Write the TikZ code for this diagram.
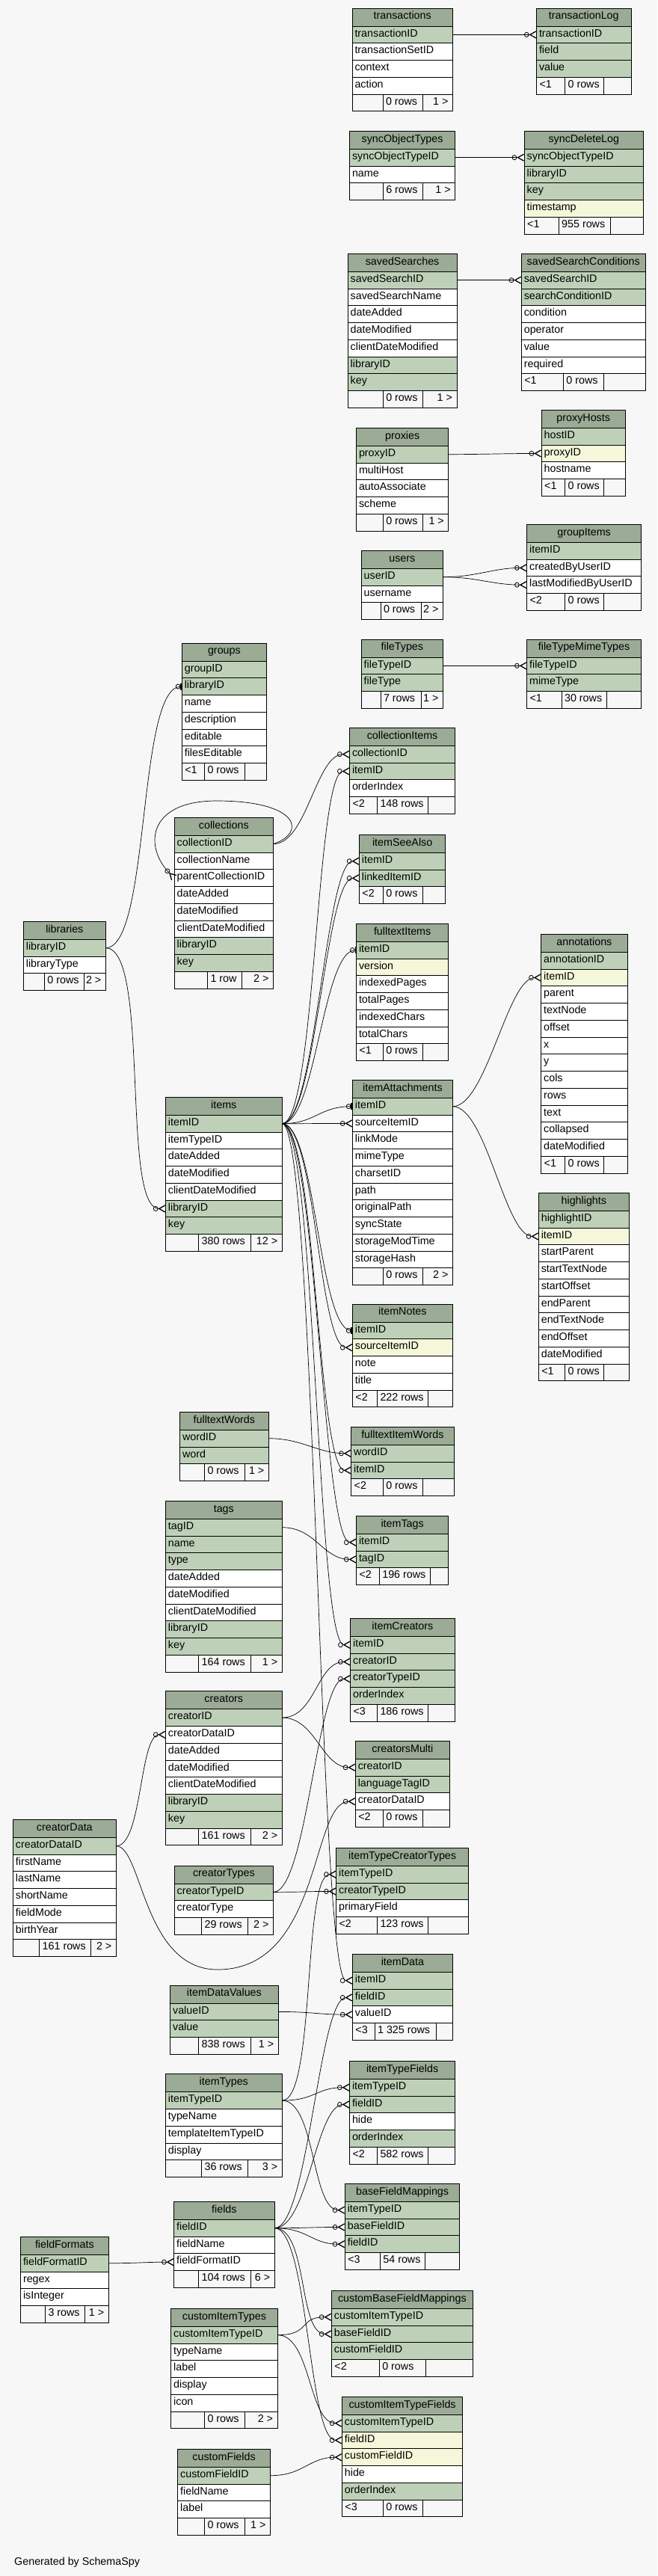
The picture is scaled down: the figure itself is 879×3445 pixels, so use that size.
\documentclass[tikz,border=0pt]{standalone}
\usepackage{fontspec}
\setmainfont{Liberation Sans}
\usetikzlibrary{arrows.meta}

\definecolor{erbg}{HTML}{F7F7F7}
\definecolor{erhd}{HTML}{9BAB96}
\definecolor{pk}{HTML}{BED1B8}
\definecolor{ix}{HTML}{F4F7DA}
\definecolor{pl}{HTML}{FFFFFF}

% one table: name, x, y, width, columns (name/colour), footer
\newcommand{\erTable}[6]{%
  \node[erhead] (#1) at (#2,#3) {\makebox[#4pt]{#1}};
  \xdef\erLast{#1}%
  \foreach \col/\kind in {#5}{%
    \node[errow,fill=\kind] (#1-\col) at (\erLast.south west) {\makebox[#4pt][l]{\hspace{3.5pt}\col}};
    \xdef\erLast{#1-\col}%
  }%
  \erFoot{#1}{#4}#6%
}
\newcommand{\erFoot}[7]{%
  \pgfmathsetmacro\erRest{#2-#6-#7}%
  \node[erfoot] (#1-f1) at (\erLast.south west) {\makebox[#6pt][l]{\hspace{4pt}#3}};
  \node[erfoot] (#1-f2) at (#1-f1.north east) {\makebox[#7pt][l]{\hspace{4pt}#4}};
  \node[erfoot] (#1-f3) at (#1-f2.north east) {\makebox[\erRest pt][r]{#5\hspace{6pt}}};
}
\tikzset{erdist/.store in=\erDist,erdist=45}

\begin{document}
\begin{tikzpicture}
    [x=1pt,y=-1pt,font=\fontsize{14.3}{17}\selectfont,
     erhead/.style={draw,fill=erhd,anchor=north west,inner sep=0pt,outer sep=0pt,
       minimum height=24pt,text height=9.5pt,text depth=4pt,line width=0.9pt},
     errow/.style={draw,anchor=north west,inner sep=0pt,outer sep=0pt,
       minimum height=22.75pt,text height=9.5pt,text depth=4pt,line width=0.9pt},
     erfoot/.style={errow,fill=erbg},
     link/.style={line width=0.7pt},
     fkcurve/.style={to path={.. controls +(\erDist,0) and +(-\erDist,0) .. (\tikztotarget)}},
     many/.style={fkcurve,
       -{Circle[open,length=6.5pt,width=7pt,line width=0.8pt]Straight Barb[reversed,length=8pt,width=9pt,line width=1.3pt]}},
     one/.style={fkcurve,
       -{Circle[open,length=6.5pt,width=7pt,line width=0.8pt]Bar[width=9pt,line width=2pt]}}]
    \fill[erbg] (0,0) rectangle (879,3445);
    \useasboundingbox (0,0) rectangle (879,3445);

    \erTable{transactions}{471}{11}{134.4}{transactionID/pk,transactionSetID/pl,context/pl,action/pl}{{}{0 rows}{1 >}{41}{53.6}}
    \erTable{transactionLog}{717.5}{11}{126.5}{transactionID/pk,field/pk,value/pk}{{<1}{0 rows}{}{38.1}{52.1}}
    \erTable{syncObjectTypes}{467.5}{175.3}{141.2}{syncObjectTypeID/pk,name/pl}{{}{6 rows}{1 >}{44.8}{53.3}}
    \erTable{syncDeleteLog}{701.2}{175.3}{159.2}{syncObjectTypeID/pk,libraryID/pk,key/pk,timestamp/ix}{{<1}{955 rows}{}{46}{69.5}}
    \erTable{savedSearches}{465.2}{339.3}{145.8}{savedSearchID/pk,savedSearchName/pl,dateAdded/pl,dateModified/pl,clientDateModified/pl,libraryID/pk,key/pk}{{}{0 rows}{1 >}{47.1}{53.3}}
    \erTable{savedSearchConditions}{697.3}{339.3}{165.9}{savedSearchID/pk,searchConditionID/pk,condition/pl,operator/pl,value/pl,required/pl}{{<1}{0 rows}{}{56.1}{54.3}}
    \erTable{proxyHosts}{724.2}{548.3}{112.1}{hostID/pk,proxyID/ix,hostname/pl}{{<1}{0 rows}{}{31.4}{52.1}}
    \erTable{proxies}{476.5}{572.3}{123.3}{proxyID/pk,multiHost/pl,autoAssociate/pl,scheme/pl}{{}{0 rows}{1 >}{35.8}{53.3}}
    \erTable{groupItems}{704.6}{701.3}{153}{itemID/pk,createdByUserID/pl,lastModifiedByUserID/pl}{{<2}{0 rows}{}{51}{52.1}}
    \erTable{users}{483.2}{736.3}{109.3}{userID/pk,username/pl}{{}{0 rows}{2 >}{25.8}{54.3}}
    \erTable{groups}{243.3}{860}{113.2}{groupID/pk,libraryID/pk,name/pl,description/pl,editable/pl,filesEditable/pl}{{<1}{0 rows}{}{30.2}{53.9}}
    \erTable{fileTypes}{483.2}{855}{109.3}{fileTypeID/pk,fileType/pk}{{}{7 rows}{1 >}{25.8}{54.3}}
    \erTable{fileTypeMimeTypes}{704.6}{855}{153}{fileTypeID/pk,mimeType/pk}{{<1}{30 rows}{}{46.5}{60.6}}
    \erTable{collectionItems}{467.5}{973.3}{141.2}{collectionID/pk,itemID/pk,orderIndex/pl}{{<2}{148 rows}{}{37}{68.4}}
    \erTable{collections}{233.2}{1093.3}{132.3}{collectionID/pk,collectionName/pl,parentCollectionID/pl,dateAdded/pl,dateModified/pl,clientDateModified/pl,libraryID/pk,key/pk}{{}{1 row}{2 >}{44.3}{45.9}}
    \erTable{itemSeeAlso}{480.4}{1116.3}{115.5}{itemID/pk,linkedItemID/pk}{{<2}{0 rows}{}{31.9}{53.3}}
    \erTable{libraries}{31.4}{1232.3}{109.9}{libraryID/pk,libraryType/pl}{{}{0 rows}{2 >}{28}{53.3}}
    \erTable{fulltextItems}{476.5}{1235.3}{123.3}{itemID/pk,version/ix,indexedPages/pl,totalPages/pl,indexedChars/pl,totalChars/pl}{{<1}{0 rows}{}{35.8}{53.3}}
    \erTable{annotations}{723.7}{1249.3}{115.4}{annotationID/pk,itemID/ix,parent/pl,textNode/pl,offset/pl,x/pl,y/pl,cols/pl,rows/pl,text/pl,collapsed/pl,dateModified/pl}{{<1}{0 rows}{}{31.9}{52.1}}
    \erTable{items}{221.4}{1467.3}{155.8}{itemID/pk,itemTypeID/pl,dateAdded/pl,dateModified/pl,clientDateModified/pl,libraryID/pk,key/pk}{{}{380 rows}{12 >}{44.3}{69.5}}
    \erTable{itemAttachments}{471.4}{1444.3}{134}{itemID/pk,sourceItemID/pl,linkMode/pl,mimeType/pl,charsetID/pl,path/pl,originalPath/pl,syncState/pl,storageModTime/pl,storageHash/pl}{{}{0 rows}{2 >}{40.9}{53.3}}
    \erTable{highlights}{720.3}{1595.3}{121.1}{highlightID/pk,itemID/ix,startParent/pl,startTextNode/pl,startOffset/pl,endParent/pl,endTextNode/pl,endOffset/pl,dateModified/pl}{{<1}{0 rows}{}{35.3}{52.1}}
    \erTable{itemNotes}{471.4}{1744}{134}{itemID/pk,sourceItemID/ix,note/pl,title/pl}{{<2}{222 rows}{}{33.1}{68.4}}
    \erTable{fulltextWords}{240.5}{1888.3}{118.8}{wordID/pk,word/pk}{{}{0 rows}{1 >}{33}{53.9}}
    \erTable{fulltextItemWords}{469.7}{1908.3}{137.3}{wordID/pk,itemID/pk}{{<2}{0 rows}{}{42.6}{53.3}}
    \erTable{tags}{221.4}{2007.3}{155.8}{tagID/pk,name/pk,type/pk,dateAdded/pl,dateModified/pl,clientDateModified/pl,libraryID/pk,key/pk}{{}{164 rows}{1 >}{44.3}{69.5}}
    \erTable{itemTags}{476.5}{2027.3}{123.3}{itemID/pk,tagID/pk}{{<2}{196 rows}{}{30.8}{68.4}}
    \erTable{itemCreators}{468.6}{2164.3}{139.6}{itemID/pk,creatorID/pk,creatorTypeID/pk,orderIndex/pk}{{<3}{186 rows}{}{35.9}{68.4}}
    \erTable{creators}{221.4}{2261.7}{155.8}{creatorID/pk,creatorDataID/pl,dateAdded/pl,dateModified/pl,clientDateModified/pl,libraryID/pk,key/pk}{{}{161 rows}{2 >}{44.3}{69.5}}
    \erTable{creatorsMulti}{475.3}{2328.3}{126.2}{creatorID/pk,languageTagID/pk,creatorDataID/pl}{{<2}{0 rows}{}{37}{53.3}}
    \erTable{creatorData}{17.4}{2433.3}{137.9}{creatorDataID/pk,firstName/pl,lastName/pl,shortName/pl,fieldMode/pl,birthYear/pl}{{}{161 rows}{2 >}{35.3}{68.9}}
    \erTable{creatorTypes}{233.2}{2495}{132.3}{creatorTypeID/pk,creatorType/pl}{{}{29 rows}{2 >}{36.4}{61.7}}
    \erTable{itemTypeCreatorTypes}{449.6}{2471.3}{177.1}{itemTypeID/pk,creatorTypeID/pk,primaryField/pl}{{<2}{123 rows}{}{54.9}{68.4}}
    \erTable{itemData}{471.4}{2613.3}{134}{itemID/pk,fieldID/pk,valueID/pl}{{<3}{1 325 rows}{}{29.7}{82.4}}
    \erTable{itemDataValues}{227.6}{2655}{144.6}{valueID/pk,value/pk}{{}{838 rows}{1 >}{38.1}{69.5}}
    \erTable{itemTypeFields}{467.5}{2756.3}{141.2}{itemTypeID/pk,fieldID/pk,hide/pl,orderIndex/pk}{{<2}{582 rows}{}{37}{68.4}}
    \erTable{itemTypes}{221.4}{2773.7}{155.8}{itemTypeID/pk,typeName/pl,templateItemTypeID/pl,display/pl}{{}{36 rows}{3 >}{48.2}{61.7}}
    \erTable{baseFieldMappings}{461.3}{2920.3}{153.6}{itemTypeID/pk,baseFieldID/pk,fieldID/pk}{{<3}{54 rows}{}{47.1}{60.5}}
    \erTable{fields}{232.6}{2944.3}{134.6}{fieldID/pk,fieldName/pl,fieldFormatID/pl}{{}{104 rows}{6 >}{33.1}{69.5}}
    \erTable{fieldFormats}{27.5}{2991.3}{117.7}{fieldFormatID/pk,regex/pl,isInteger/pl}{{}{3 rows}{1 >}{33}{52.7}}
    \erTable{customBaseFieldMappings}{443.4}{3063.3}{188.9}{customItemTypeID/pk,baseFieldID/pk,customFieldID/pk}{{<2}{0 rows}{}{63.9}{62.2}}
    \erTable{customItemTypes}{228.7}{3087.3}{142.4}{customItemTypeID/pk,typeName/pl,label/pl,display/pl,icon/pl}{{}{0 rows}{2 >}{44.8}{53.9}}
    \erTable{customItemTypeFields}{457.4}{3205.3}{161.4}{customItemTypeID/pk,fieldID/ix,customFieldID/ix,hide/pl,orderIndex/pk}{{<3}{0 rows}{}{54.9}{53.3}}
    \erTable{customFields}{237.7}{3275.3}{123.8}{customFieldID/pk,fieldName/pl,label/pl}{{}{0 rows}{1 >}{35.8}{53.9}}

    \node[anchor=base west] (credit) at (15.7,3430.5) {Generated by SchemaSpy};

    \path[link]
      (transactions-transactionID.east) edge[many] (transactionLog-transactionID.west)
      (syncObjectTypes-syncObjectTypeID.east) edge[many] (syncDeleteLog-syncObjectTypeID.west)
      (savedSearches-savedSearchID.east) edge[many] (savedSearchConditions-savedSearchID.west)
      (proxies-proxyID.east) edge[many] (proxyHosts-proxyID.west)
      (users-userID.east) edge[many] (groupItems-createdByUserID.west)
                          edge[many] (groupItems-lastModifiedByUserID.west)
      (fileTypes-fileTypeID.east) edge[many] (fileTypeMimeTypes-fileTypeID.west)
      (libraries-libraryID.east) edge[one,erdist=60] (groups-libraryID.west)
                                 edge[many,erdist=60] (items-libraryID.west)
      (collections-collectionID.east) edge[many] (collectionItems-collectionID.west)
      (items-itemID.east) edge[many] (collectionItems-itemID.west)
                          edge[many] (itemSeeAlso-itemID.west)
                          edge[many] (itemSeeAlso-linkedItemID.west)
                          edge[one] (fulltextItems-itemID.west)
                          edge[one] (itemAttachments-itemID.west)
                          edge[many] (itemAttachments-sourceItemID.west)
                          edge[one] (itemNotes-itemID.west)
                          edge[many] (itemNotes-sourceItemID.west)
                          edge[many] (fulltextItemWords-itemID.west)
                          edge[many] (itemTags-itemID.west)
                          edge[many] (itemCreators-itemID.west)
                          edge[many] (itemData-itemID.west)
      (itemAttachments-itemID.east) edge[many] (annotations-itemID.west)
                                    edge[many] (highlights-itemID.west)
      (fulltextWords-wordID.east) edge[many] (fulltextItemWords-wordID.west)
      (tags-tagID.east) edge[many] (itemTags-tagID.west)
      (creators-creatorID.east) edge[many] (itemCreators-creatorID.west)
                                edge[many] (creatorsMulti-creatorID.west)
      (creatorData-creatorDataID.east) edge[many,erdist=35] (creators-creatorDataID.west)
      (creatorTypes-creatorTypeID.east) edge[many] (itemCreators-creatorTypeID.west)
                                        edge[many] (itemTypeCreatorTypes-creatorTypeID.west)
      (itemTypes-itemTypeID.east) edge[many] (itemTypeCreatorTypes-itemTypeID.west)
                                  edge[many] (itemTypeFields-itemTypeID.west)
                                  edge[many] (baseFieldMappings-itemTypeID.west)
      (itemDataValues-valueID.east) edge[many] (itemData-valueID.west)
      (fields-fieldID.east) edge[many] (itemData-fieldID.west)
                            edge[many] (itemTypeFields-fieldID.west)
                            edge[many] (baseFieldMappings-baseFieldID.west)
                            edge[many] (baseFieldMappings-fieldID.west)
                            edge[many] (customBaseFieldMappings-baseFieldID.west)
                            edge[many] (customItemTypeFields-fieldID.west)
      (fieldFormats-fieldFormatID.east) edge[many] (fields-fieldFormatID.west)
      (customItemTypes-customItemTypeID.east) edge[many] (customBaseFieldMappings-customItemTypeID.west)
                                              edge[many] (customItemTypeFields-customItemTypeID.west)
      (customFields-customFieldID.east) edge[many] (customItemTypeFields-customFieldID.west);

    % loops round a table
    \coordinate (collLoop) at (290,1071);
    \coordinate (cdLoop) at (291,2634);
    \draw[link,many] (collections-collectionID.east) .. controls +(45,-15) and +(110,0) .. (collLoop)
      .. controls +(-95,0) and +(-40,-40) .. (collections-parentCollectionID.west);
    \draw[link,many] (creatorData-creatorDataID.east) .. controls +(35,0) and +(-100,0) .. (cdLoop)
      .. controls +(140,0) and +(-60,0) .. (creatorsMulti-creatorDataID.west);
\end{tikzpicture}
\end{document}
